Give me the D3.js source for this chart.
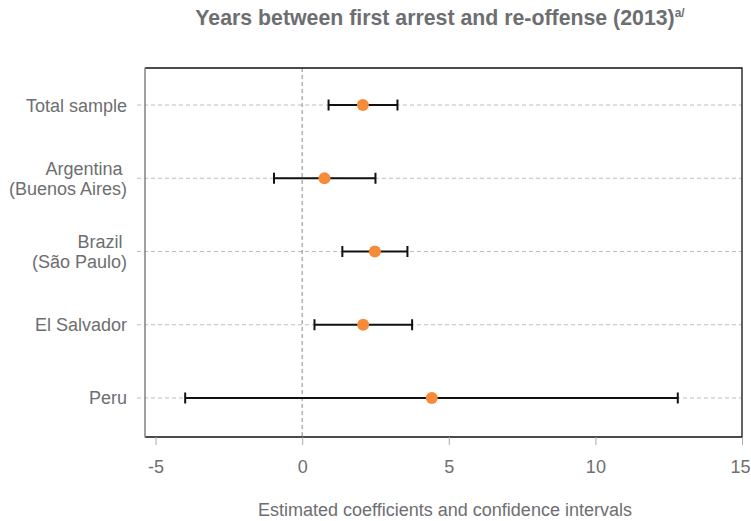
<!DOCTYPE html>
<html>
<head>
<meta charset="utf-8">
<script src="https://cdn.jsdelivr.net/npm/d3@7"></script>
<style>
  html, body { margin: 0; padding: 0; background: #fff; }
  svg { display: block; font-family: "Liberation Sans", Arial, Helvetica, sans-serif; }
</style>
</head>
<body>
<svg id="chart" width="751" height="521"></svg>
<script>
// ---- data ----
const categories = ["Total sample", "Argentina\n(Buenos Aires)", "Brazil\n(São Paulo)", "El Salvador", "Peru"];
const estimates  = [2.07, 0.76, 2.48, 2.08, 4.42];
const lowerCI    = [0.90, -0.96, 1.37, 0.42, -3.99];
const upperCI    = [3.25, 2.50, 3.59, 3.75, 12.81];
const xTicks     = [-5, 0, 5, 10, 15];
const titleText  = "Years between first arrest and re-offense (2013)";
const titleSup   = "a/";
const xTitle     = "Estimated coefficients and confidence intervals";

(function () {
// ---- layout ----
const svg = d3.select("#chart");
const pL = 145, pR = 742, pT = 68, pB = 437;

const x = d3.scaleLinear().domain([-5.36, 15]).range([pL, pR]);
const y = d3.scalePoint().domain(categories).range([pT + 0.4, pB - 2.4]).padding(0.5);

const rows = categories.map((c, i) => ({ c, est: estimates[i], lo: lowerCI[i], hi: upperCI[i] }));

// title
const t = svg.append("text")
  .attr("x", 440).attr("y", 25)
  .attr("text-anchor", "middle")
  .attr("fill", "#6d6e71")
  .attr("font-weight", "bold")
  .attr("font-size", 21.3)
  .text(titleText);
t.append("tspan").attr("font-size", 12).attr("dy", -8).text(titleSup);

// gridlines (dashed horizontal)
svg.append("g").selectAll("line").data(categories).join("line")
  .attr("x1", pL - 8).attr("x2", pR)
  .attr("y1", d => y(d)).attr("y2", d => y(d))
  .attr("stroke", "#bdbdbd").attr("stroke-width", 1)
  .attr("stroke-dasharray", "4,3");

// zero line
svg.append("line")
  .attr("x1", x(0)).attr("x2", x(0))
  .attr("y1", pT).attr("y2", pB)
  .attr("stroke", "#8a8a8a").attr("stroke-width", 1)
  .attr("stroke-dasharray", "4,3");

// frame: top/right/bottom black, left gray
svg.append("path")
  .attr("d", `M${pL},${pT}H${pR}V${pB}H${pL}`)
  .attr("fill", "none").attr("stroke", "#111").attr("stroke-width", 1.3);
svg.append("line")
  .attr("x1", pL).attr("x2", pL).attr("y1", pT - 0.5).attr("y2", pB + 0.5)
  .attr("stroke", "#8a8a8a").attr("stroke-width", 1.6);

// x axis
const xAxis = d3.axisBottom(x).tickValues(xTicks).tickSize(8).tickPadding(15).tickSizeOuter(0);
const gx = svg.append("g").attr("transform", `translate(0,${pB})`).call(xAxis);
gx.select(".domain").remove();
gx.selectAll(".tick line").attr("stroke", "#aaaaaa");
gx.selectAll(".tick text")
  .attr("fill", "#6d6e71").attr("font-size", 18)
  .attr("font-family", "Liberation Sans, Arial, sans-serif")
  .attr("dx", d => d === 15 ? -2 : 0)
  .text(d => d < 0 ? "-" + Math.abs(d) : d);

// y labels
const gy = svg.append("g");
rows.forEach(r => {
  const lines = r.c.split("\n");
  const txt = gy.append("text")
    .attr("text-anchor", "end")
    .attr("fill", "#6d6e71")
    .attr("font-size", 18);
  const lh = 20;
  const y0 = y(r.c) - (lines.length - 1) * lh / 2 + 6.5;
  lines.forEach((ln, i) => {
    txt.append("tspan").attr("x", lines.length > 1 && i === 0 ? 122.5 : 127)
      .attr("y", y0 + i * lh).text(ln);
  });
});

// error bars
const eb = svg.append("g");
eb.selectAll("line.ci").data(rows).join("line").attr("class", "ci")
  .attr("x1", d => x(d.lo)).attr("x2", d => x(d.hi))
  .attr("y1", d => y(d.c)).attr("y2", d => y(d.c))
  .attr("stroke", "#111").attr("stroke-width", 2);
eb.selectAll("line.lo").data(rows).join("line").attr("class", "lo")
  .attr("x1", d => x(d.lo)).attr("x2", d => x(d.lo))
  .attr("y1", d => y(d.c) - 5.5).attr("y2", d => y(d.c) + 5.5)
  .attr("stroke", "#111").attr("stroke-width", 2);
eb.selectAll("line.hi").data(rows).join("line").attr("class", "hi")
  .attr("x1", d => x(d.hi)).attr("x2", d => x(d.hi))
  .attr("y1", d => y(d.c) - 5.5).attr("y2", d => y(d.c) + 5.5)
  .attr("stroke", "#111").attr("stroke-width", 2);

// points
svg.append("g").selectAll("circle").data(rows).join("circle")
  .attr("cx", d => x(d.est)).attr("cy", d => y(d.c))
  .attr("r", 6).attr("fill", "#f68b3a");

// x title
svg.append("text")
  .attr("x", 445).attr("y", 516)
  .attr("text-anchor", "middle")
  .attr("fill", "#6d6e71").attr("font-size", 18)
  .text(xTitle);
})();
</script>
</body>
</html>
